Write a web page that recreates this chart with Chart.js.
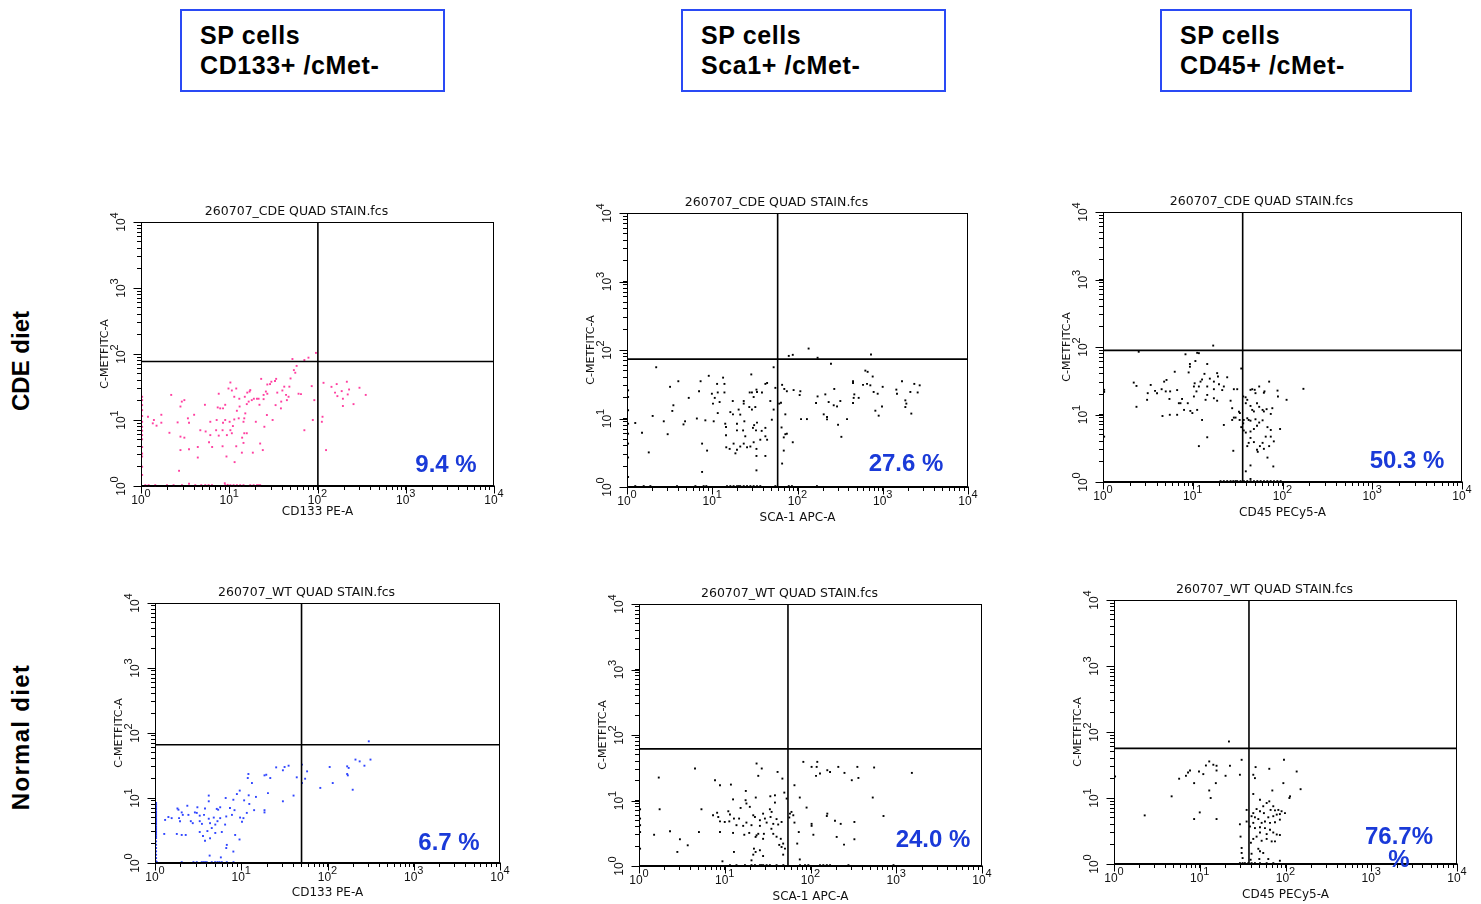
<!DOCTYPE html>
<html>
<head>
<meta charset="utf-8">
<script src="https://cdn.jsdelivr.net/npm/chart.js@4.4.1/dist/chart.umd.min.js"></script>
<style>
html,body{margin:0;padding:0;overflow:hidden;background:#fff;}
body{width:1481px;height:904px;position:relative;font-family:"Liberation Sans",Arial,Helvetica,sans-serif;}
canvas{position:absolute;}
.hdr{position:absolute;top:9px;height:70px;border:2px solid #2a4af5;padding:9px 0 0 18px;font-weight:bold;font-size:25px;letter-spacing:0.6px;line-height:30px;color:#000;white-space:pre;}
.rowlab{position:absolute;font-weight:bold;font-size:24px;line-height:24px;white-space:nowrap;color:#000;transform:translate(-50%,-50%) rotate(-90deg);}
.pct{position:absolute;font-weight:bold;font-size:24px;line-height:23px;color:#1a3ad8;white-space:pre;text-align:center;transform:translateX(-50%);z-index:5;}
</style>
</head>
<body>
<script>
// ---------------- DATA ----------------
const headerLines = [['SP cells', 'CD133+ /cMet-'], ['SP cells', 'Sca1+ /cMet-'], ['SP cells', 'CD45+ /cMet-']];
const rowLabels = ['CDE diet', 'Normal diet'];
const fileTitles = ['260707_CDE QUAD STAIN.fcs', '260707_CDE QUAD STAIN.fcs', '260707_CDE QUAD STAIN.fcs',
                    '260707_WT QUAD STAIN.fcs', '260707_WT QUAD STAIN.fcs', '260707_WT QUAD STAIN.fcs'];
const xAxisLabels = ['CD133 PE-A', 'SCA-1 APC-A', 'CD45 PECy5-A', 'CD133 PE-A', 'SCA-1 APC-A', 'CD45 PECy5-A'];
const yAxisLabel = 'C-METFITC-A';
const lowerRightPercents = ['9.4 %', '27.6 %', '50.3 %', '6.7 %', '24.0 %', '76.7%\n%'];
const gateX = [101, 58.5, 36, 50, 54.6, 37.5];
const gateY = [77, 73.6, 89, 66, 61.5, 56.4];
const decadeExponents = [0, 1, 2, 3, 4];
const minorSteps = [1, 2, 3, 4, 5, 6, 7, 8, 9];
const axisMin = 1, axisMax = 10000;

const cdeCd133Points = [[52,84],[54,57],[56,52],[58,66],[71,81],[79,88],[96,104],[23,42],[29,35],[30,38],[34,42],[35,26],[40,28],[42,32],[44,24],[48,32],[26,27],[27,25],[24.5,24],[22,17],[21.5,21],[19,21],[20.6,21],[17,27],[16,26],[15,22.5],[13,21],[12,30],[11.4,22.5],[10.7,28],[9.8,30],[10.3,37],[7.6,25],[9,17],[8.5,15],[7.9,15],[7.4,15.5],[5.3,17],[4,12],[3.5,9.1],[3.4,10.6],[2.9,19],[3.1,20],[2.8,16],[2.2,24],[2.6,9.2],[1.7,9.1],[1.7,12],[1.4,10],[1.36,8.9],[1.2,11.2],[1.5,8.2],[2.1,6.4],[2.8,5.6],[3.1,5.4],[3.5,3.6],[2.8,3.5],[4.4,3.9],[5.4,6.7],[6.1,9.4],[6.1,5.9],[4.7,7],[5.9,4.6],[7.1,7],[7.6,5.8],[8.4,4],[9.3,2.8],[9.4,5.9],[10.7,6.3],[10.1,9.4],[11.4,10.2],[12.2,13.8],[13.1,16],[14.5,9.4],[15.2,12.6],[15.8,17.4],[16.6,19],[18,20],[17.3,28.4],[14.8,10.6],[14,5.4],[14.5,4.5],[12,4],[11.5,2.3],[13.9,3.2],[18.5,3.2],[14.8,6.3],[20,9.4],[22.4,4.4],[24,3.5],[25,7.9],[26.7,11.9],[31,10],[33.5,16.8],[38.8,19],[38.5,15],[47,22.5],[49.5,42.6],[65,24.7],[61,25],[71,7],[86,32.6],[88.5,10],[92,20],[114,11.2],[112,9.4],[125,3.5],[144,31.8],[117,36.6],[165,35],[158,26],[168,23],[188,27.4],[215,38],[228,29],[220,24.4],[194,21],[194,16.3],[256,17.4],[299,30.8],[352,24],[45,20],[33,39],[27,34.5],[24.5,20.7],[9,10],[8.5,9.1],[11,8.1],[12.8,10.6],[15.8,6.3],[10.3,7],[7.2,10],[8.4,7],[6.4,3.9],[4.4,2.7],[2.7,1.7],[3.5,1.08],[8.9,1.1],[9.6,1.04],
[1.03,22.5],[1.03,20],[1.03,16.8],[1.03,14.1],[1.03,11.5],[1.03,9.4],[1.03,7.9],[1.03,6.9],[1.03,5.9],[1.03,5.1],[1.03,3.9],[1.03,3.1],[1.03,2.8],[1.03,1.96],[1.03,1.47],
[1.12,1.03],[1.22,1.03],[1.45,1.03],[1.97,1.03],[2.34,1.03],[2.91,1.03],[4.12,1.03],[4.82,1.03],[5.35,1.03],[5.83,1.03],[6.37,1.03],[9.0,1.03],[10.3,1.03],[11.2,1.03],[12.2,1.03],[13.3,1.03],[14.5,1.03],[17.3,1.03],[18.9,1.03],[20.6,1.03],[21.5,1.03],[22.4,1.03]];

const cdeSca1Points = [[135,105],[79,82],[88,85],[172,77],[728,86],[247,63],[2.2,56],[52.5,56],[9.1,42],[13.4,39.5],[7.3,35],[4.0,35],[3.2,29],[11.4,32],[13.9,32],[28.7,44],[42,32],[7.0,25],[5.3,20],[3.5,15.6],[3.4,12.9],[2.0,10.9],[2.7,9.1],[3.0,5.9],[1.8,3.2],[1.5,6.2],[1.25,8.6],
[1.03,25.8],[1.03,20.6],[1.03,13.2],[1.03,8.4],[1.03,6.0],[1.03,4.3],[1.03,2.7],[1.03,1.4],
[9.9,23],[10.7,20],[10.2,16.5],[11.6,24],[12.2,17.4],[13.9,24],[11.6,12],[10.4,9.1],[8.3,9.4],[6.6,10],[4.8,9.1],[4.6,8.2],[14.2,8.4],[14.5,7.5],[14.5,5.7],[17.4,18],[16.3,12.4],[17.5,11.5],[20.4,13.5],[21.3,11.4],[23.4,18],[23.4,16.5],[23.8,9.1],[19.5,6.7],[19.5,8.4],[23,6.7],[24.4,5.5],[27.5,24],[29.2,24],[30.6,20.6],[32,14.7],[27.2,14.7],[29.2,13.5],[33,26.4],[33.5,24.4],[38.3,24],[44,33],[48,18],[52.5,13.5],[55,28],[50,9.6],[33.5,8.7],[31,8],[30,7.3],[32.6,6.7],[38,6.6],[42,7.3],[42,5.5],[44,4.9],[36.6,4.9],[30.6,4.5],[33,3.6],[28,3.9],[25.6,3.8],[23.4,4.3],[21.3,3.9],[19.5,3.5],[18.7,3.1],[17.8,4.3],[16,3.6],[14.6,3.8],[7.6,4.3],[8.7,3.4],[7.6,1.66],[33,2.84],[42,2.84],[33,1.75],
[66,31],[70,27],[64,17],[61,16.5],[72,11.5],[65,7.4],[69,5.3],[72,5.9],[75,6],[88,4.5],[69,3.4],[66,2.2],[75,25],[90,26],[108,25],[106,22],[110,9.8],[129,9.8],[165,16.8],[172,21],[212,22.5],[203,11.5],[222,10.5],[222,9.7],[270,27],[232,17.4],[266,15.6],[291,15],[318,18],[381,9.8],[299,8.1],[327,5.4],[448,33],[448,35],[464,22.5],[456,20],[448,16.8],[522,20],[587,31],[625,50],[665,48],[762,41],[715,30.5],[782,24.4],[872,23],[998,29],[980,15],[819,13],[896,11],[1443,26.4],[1469,23],[1682,35],[1841,18.4],[1841,14.7],[1891,16.5],[2108,24.4],[2163,11.8],[2345,32],[2568,24],[2711,30.5],[654,32],
[1.25,1.03],[1.57,1.03],[1.88,1.03],[3.86,1.03],[6.34,1.03],[7.93,1.03],[8.52,1.03],[14.9,1.03],[16.3,1.03],[17.8,1.03],[19.5,1.03],[20.4,1.03],[21.3,1.03],[23.4,1.03],[25.6,1.03],[28,1.03],[30.6,1.03],[33.5,1.03],[36.6,1.03],[55,1.03],[79,1.03],[86,1.03],[169,1.03]];

const cdeCd45Points = [[2.5,85],[8.3,78],[11.2,82],[11.7,81],[16.9,105],[9.3,56],[9.3,51],[10.7,62],[14.5,56],[6.3,43],[9.0,42],[13.5,40],[15.5,34],[18.7,41],[19.1,36.5],[24.2,35.6],[17.2,30.7],[19.6,28],[22.2,26],[21.3,23],[28.7,23.7],[31.3,23.7],[12.7,33],[12.2,30.7],[10.5,29],[10.3,26],[11.7,26],[14.5,26],[17.2,23.7],[14.5,19.5],[13.9,16.5],[17.2,17.4],[18.7,16],[26.4,16],[27.5,12.4],[32.7,11],[33.3,8.3],[28.7,9],[22.2,7],[14.5,4.6],[11.7,3.4],[28.3,2.9],[12.7,8.3],[11.2,11.7],[9.9,10.5],[9.4,11.3],[8.0,11.7],[8.8,14.7],[7.6,17],[6.7,23],[7.0,14.7],[5.5,17],[5.0,22],[4.8,30.7],[5.1,32.5],[5.6,22],[4.5,23.7],[4.0,20.7],[3.8,22.4],[3.4,27.4],[3.15,20.7],[3.1,16.5],[2.36,13],[2.2,29.7],[2.36,26.5],[4.6,9.5],[5.55,9.9],[6.7,9.9],[7.3,14.7],[11,22],[10.3,18.5],[1.03,23.2],[1.03,21.6],[1.03,4.7],
[34.7,48],[36.5,18.5],[38.8,18],[40.5,16.5],[44,23.2],[46,23.7],[49,23.2],[50,20.7],[55,26],[62,21],[63,22],[71,30.7],[88,22.6],[89,18.5],[111,16.5],[171,24],[39,14.7],[44,13.4],[46,11.7],[48,11.1],[52,14.7],[55,13],[60,11.7],[62,11.1],[66.5,12],[77,12.4],[74,10.2],[40.5,8.8],[42,8.3],[44,8.1],[50,8.5],[55,7.6],[60,8.2],[52,6.8],[48,6.1],[44,5.6],[37,5.8],[39,5.4],[68,6.5],[74,5.9],[94,6.1],[65,4.7],[74,4.7],[80,4],[71,3.4],[60,3.8],[56,3.4],[52,3.0],[48,3.9],[44,4.5],[42,3.8],[40.5,3.4],[62,3.1],[53,2.8],[68,2.3],[79,1.7],[44,1.76],[39,1.44],[44,1.11],[36.5,7.4],[37,8.3],[34.7,6.5],[33.5,10.5],[30,9],[27.5,8.3],
[20.4,1.03],[22.2,1.03],[24.2,1.03],[26.4,1.03],[28.3,1.03],[30,1.03],[31.3,1.03],[34.1,1.03],[37.2,1.03],[40.5,1.03],[44.1,1.03],[48.1,1.03],[52.4,1.03],[57.1,1.03],[62.2,1.03],[67.7,1.03],[73.8,1.03],[80.4,1.03],[87.6,1.03],[95.4,1.03]];

const wtCd133Points = [[301,74.5],[211,39],[236,36.6],[315,39],[268,31.4],[169,30.7],[176,29],[169,23.4],[172,22.3],[196,13.4],[106,30],[115,17],[82.5,14.3],[58,25.7],[55,19.8],[50.6,17],[50.6,32.6],[44,20.8],[40.4,10.9],[30.4,8.9],[35.4,31.4],[31.8,30],[25.4,29.6],[30.4,26.7],[21.7,20.3],[19.5,22.8],[18.6,22.3],[20.4,11.9],[18.6,6.5],[18.6,6.0],[14.8,10.4],[14.1,6.5],[12.1,23.4],[11.9,20.3],[13.3,17],[12.2,11],[12.4,8.1],[10.8,9.2],[8.9,11.5],[9.6,13],[8.1,9.4],[8.35,6.5],[7.8,5.5],[7.4,7],[6.6,10],[6.7,5.2],[5.7,7.2],[5.4,6.6],[5.2,6.8],[4.2,10.9],[4.2,8.9],[3.8,6.9],[3.7,5.5],[3.1,7.2],[3.05,5.9],[3.3,5.35],[2.44,5.5],[2.37,7.6],[2.1,5.5],[2.04,6.0],[1.9,4.9],[1.95,4.4],[1.87,6.6],[1.82,6.9],[1.56,4.9],[1.43,5.1],[1.31,4.6],[1.28,2.8],[1.79,2.8],[2.04,2.7],[2.27,2.7],[2.6,4.4],[2.74,4.1],[2.9,6.0],[3.3,4.4],[3.5,4.0],[4.2,4.8],[4.35,4.1],[4.8,5.0],[5.0,3.9],[5.3,4.4],[5.7,4.9],[6.5,3.9],[5.95,3.0],[5.0,2.9],[4.55,3.45],[4.05,3.1],[4.35,2.4],[3.3,3.0],[3.6,2.6],[3.8,2.2],[9.7,5.0],[10.2,4.3],[10.6,4.9],[11.6,5.9],[8.5,2.7],[9.55,2.3],[6.7,1.7],[6.8,1.9],[8.1,1.5],[5.8,1.22],[4.3,1.3],
[1.03,8.4],[1.03,7.9],[1.03,7.45],[1.03,7.0],[1.03,6.62],[1.03,6.2],[1.03,5.88],[1.03,5.5],[1.03,5.22],[1.03,4.9],[1.03,4.64],[1.03,4.4],[1.03,4.12],[1.03,3.9],[1.03,3.66],[1.03,3.45],[1.03,3.26],[1.03,3.07],[1.03,2.9],[1.03,2.73],[1.03,2.57],[1.03,2.42],[1.03,2.15],[1.03,1.91],[1.03,1.7],[1.03,1.51],[1.03,1.34],[1.03,1.19],[1.03,1.06],
[1.05,1.03],[2.04,1.03],[2.79,1.03],[3.05,1.03],[3.48,1.03],[3.64,1.03],[3.81,1.03],[3.98,1.03],[4.55,1.03],[4.98,1.03],[5.3,1.03],[5.59,1.03],[5.95,1.03],[6.8,1.03],[8.13,1.03]];

const wtSca1Points = [[82.5,38.9],[120,38.9],[103,32.6],[118,32.6],[116,23.8],[129,25.8],[157,29],[169,27.3],[211,32.6],[249,26.4],[352,32.6],[362,22.1],[303,20.4],[552,31.9],[1521,26.4],[532,11.1],[710,5.8],[65,17.1],[75,11.1],[90,7.8],[103,4.4],[103,4.1],[155,5.8],[157,6.3],[193,4.9],[225,4.4],[325,4.7],[325,2.56],[202,2.78],[246,2.12],[108,3.0],[70,2.2],[73,3.3],[65,4.6],[63,5.95],[60,6.7],[57.6,6.3],[56.6,5.5],[75,1.26],
[23.5,36.7],[24.6,23.8],[27,30.8],[41.3,27.3],[47,21.6],[38.5,12],[34,11.6],[49.5,13.2],[52.7,10.7],[38.5,9.3],[23,11.1],[17.6,14],[17.5,10.1],[17.9,9],[19.6,8],[15.3,7.7],[12.5,10.4],[11.8,17.5],[8.8,17.1],[7.7,20.4],[4.5,30.8],[1.7,22.4],[5.35,7.35],[1.74,7.35],[7.3,5.95],[8.15,6.5],[8.4,5.6],[11,6.85],[11.5,6.1],[11.3,4.8],[10,4.7],[8.8,4.8],[12.8,5.3],[14.7,5.3],[13.7,4.2],[16.4,4.1],[17.9,4.6],[21.5,5.95],[22.5,5.6],[25.7,5.0],[25.7,4.1],[28,6.3],[29.4,5.3],[30.8,4.6],[33.6,7.35],[34.2,5.6],[35.2,6.7],[36.8,4.4],[40.2,5.2],[42,4.3],[46,4.7],[20.5,4.2],[19.3,3.2],[16.9,3.0],[23.5,2.94],[22.9,2.78],[24.6,3.1],[28.6,3.1],[28,2.6],[35,3.7],[36.8,3.1],[40.2,2.8],[43.2,2.1],[45,2.6],[46,1.95],[48,2.2],[50.4,1.84],[48,1.49],[21.9,1.84],[22.9,1.64],[21.5,1.49],[25.7,1.74],[28,1.42],[20.5,1.22],[12.5,3.2],[8.8,3.3],[5.0,3.3],[3.0,2.56],[3.7,2.07],[2.3,3.4],[1.5,3.0],[2.8,1.64],[12.8,1.64],[9.4,1.18],
[1.03,7.35],[1.03,5.3],[1.03,4.2],[1.03,3.3],[1.03,1.84],
[11.5,1.03],[13.7,1.03],[17.2,1.03],[20.5,1.03],[22.5,1.03],[25.7,1.03],[26.9,1.03],[28.1,1.03],[30.8,1.03],[33.6,1.03],[40.2,1.03],[48.2,1.03],[75.4,1.03],[86.3,1.03],[94.4,1.03],[129,1.03],[141,1.03],[155,1.03],[169,1.03],[277,1.03],[929,1.03]];

const wtCd45Points = [[21.9,71.8],[30.8,37.9],[22.5,30.8],[15.7,30.8],[14.4,31.9],[12.9,35.8],[11.8,31.1],[9.8,25.2],[7.7,26.1],[7.3,24.4],[6.9,21.7],[5.75,19.6],[11,23],[15.7,26.1],[20,21.7],[29.4,22.5],[8.6,16.8],[15.4,16.8],[12.9,13],[13.4,10],[4.7,10.6],[10,6.05],[8.6,4.8],[15.7,4.8],[2.28,5.45],[1.03,21.2],
[44.8,29.4],[64.7,27.7],[96,37.9],[135,25.2],[42.1,22.5],[44,20],[94.4,16.8],[150,13.6],[113,10.6],[111,10],[42.1,11.5],[50.4,9.4],[70.2,13],[64.7,8.9],[60.3,8.4],[72,7.5],[55,7.5],[67,6.6],[75.4,6.5],[82.5,6.6],[90,6.3],[98.6,5.9],[86,5.7],[79,5.6],[72,5.3],[63,5.1],[56,5.9],[50.4,6.3],[46,6.8],[42.1,5.9],[40.2,5.3],[44,5.1],[35.2,6.6],[35.2,4.4],[42.1,4.2],[48.2,4.8],[52.7,4.2],[57.6,4.4],[66,4.2],[75.4,4.3],[86,4.7],[38.5,3.7],[44,3.5],[50.4,3.6],[57.6,3.5],[66,3.3],[72,3.0],[79,2.8],[60.3,2.84],[50.4,3.0],[46,2.6],[42.1,2.4],[39.5,2.1],[52.7,2.25],[60.3,2.4],[69,2.2],[75.4,2.2],[86,2.75],[48.2,1.7],[50.4,1.56],[55,1.47],[63,1.19],[49.5,1.19],[86,1.12],[29.4,4.0],[29.9,2.6],[30.8,1.75],[30.8,1.47],[31.6,1.23],[40.2,1.43],[39.2,1.16],
[29.4,1.03],[31.6,1.03],[33.6,1.03],[36.8,1.03],[40.2,1.03],[44,1.03],[50.4,1.03],[60.3,1.03],[72.1,1.03]];

const panelPoints = [cdeCd133Points, cdeSca1Points, cdeCd45Points, wtCd133Points, wtSca1Points, wtCd45Points];
const pointColors = ['#ff3fa0', '#000000', '#000000', '#2f45ff', '#000000', '#000000'];

// ---------------- LAYOUT (page pixels) ----------------
const plotBoxes = [[141,222,494,486],[627,213,968,487],[1103,212,1462,482],[155,603,500,863],[639,604,982,866],[1114,600,1457,864]];
const xTitleOffsets = [26, 31, 31, 30, 31, 31];
const headerBoxes = [[180,265],[681,265],[1160,252]];
const rowLabelPos = [[21,361,0],[21,737,1.3]];
const pctPos = [[446,463],[906,462],[1407,459],[449,841],[933,838],[1399,835]];

const tickValues = [];
decadeExponents.slice(0, -1).forEach(e => minorSteps.forEach(m => tickValues.push(m * Math.pow(10, e))));
tickValues.push(axisMax);

// headers
headerLines.forEach((lines, i) => {
  const d = document.createElement('div');
  d.className = 'hdr';
  d.style.left = headerBoxes[i][0] + 'px';
  d.style.width = (headerBoxes[i][1] - 4 - 18) + 'px';
  d.textContent = lines.join('\n');
  document.body.appendChild(d);
});
rowLabels.forEach((t, i) => {
  const d = document.createElement('div');
  d.className = 'rowlab';
  d.style.left = rowLabelPos[i][0] + 'px';
  d.style.top = rowLabelPos[i][1] + 'px';
  d.style.letterSpacing = rowLabelPos[i][2] + 'px';
  d.textContent = t;
  document.body.appendChild(d);
});
lowerRightPercents.forEach((t, i) => {
  const d = document.createElement('div');
  d.className = 'pct';
  d.style.left = pctPos[i][0] + 'px';
  d.style.top = (pctPos[i][1] - 11.2) + 'px';
  d.textContent = t;
  document.body.appendChild(d);
});

const TICK_FONT = '"Liberation Sans", Arial, sans-serif';
function drawPower(ctx, cx, cy, exp, rotated) {
  ctx.save();
  ctx.translate(cx, cy);
  if (rotated) ctx.rotate(-Math.PI / 2);
  ctx.fillStyle = '#111';
  ctx.textBaseline = 'middle';
  ctx.textAlign = 'left';
  ctx.font = '12px ' + TICK_FONT;
  const w1 = ctx.measureText('10').width;
  ctx.font = '11px ' + TICK_FONT;
  const s = String(exp);
  const w2 = ctx.measureText(s).width;
  const start = -(w1 + w2) / 2;
  ctx.font = '12px ' + TICK_FONT;
  ctx.fillText('10', start, 0);
  ctx.font = '11px ' + TICK_FONT;
  ctx.fillText(s, start + w1, -7);
  ctx.restore();
}

const axisDecor = {
  id: 'axisDecor',
  afterDraw(chart) {
    const {ctx, chartArea: a, scales: {x, y}} = chart;
    ctx.save();
    ctx.strokeStyle = '#000';
    ctx.lineWidth = 1;
    const l = Math.round(a.left) + 0.5, t = Math.round(a.top) + 0.5;
    const r = Math.round(a.right) - 0.5, b = Math.round(a.bottom) - 0.5;
    ctx.strokeRect(l, t, r - l, b - t);
    ctx.beginPath();
    decadeExponents.forEach(e => {
      const v = Math.pow(10, e);
      const px = Math.round(x.getPixelForValue(v)) + 0.5;
      ctx.moveTo(px, b); ctx.lineTo(px, b + 8);
      const py = Math.round(y.getPixelForValue(v)) + 0.5;
      ctx.moveTo(l, py); ctx.lineTo(l - 8, py);
    });
    ctx.stroke();
    decadeExponents.forEach(e => {
      const v = Math.pow(10, e);
      drawPower(ctx, x.getPixelForValue(v), a.bottom + 15, e, false);
      drawPower(ctx, a.left - 19, y.getPixelForValue(v), e, true);
    });
    ctx.restore();
  }
};

function logAxis(titleText, titleFontSize, titlePadding, position) {
  return {
    type: 'logarithmic', position, min: axisMin, max: axisMax,
    afterBuildTicks: scale => { scale.ticks = tickValues.map(v => ({value: v})); },
    ticks: {display: false},
    grid: {drawOnChartArea: false, drawTicks: true, tickLength: 4, tickColor: '#000', tickWidth: 1},
    border: {display: true, color: '#000', width: 1},
    title: {display: true, text: titleText, color: '#111',
            font: {family: 'DejaVu Sans', size: titleFontSize, lineHeight: '13px'}, padding: titlePadding}
  };
}

plotBoxes.forEach((box, i) => {
  const [L, T, R, B] = box;
  const padL = 2, yAxisW = 42, titleH = 17;
  const left = L - yAxisW - padL, top = T - titleH;
  const xPadTop = xTitleOffsets[i] - 10.5;
  const xAxisH = 4 + 13 + xPadTop + 2;
  const rawW = R - left, rawH = (B - top) + xAxisH;
  const w = Math.ceil(rawW + 14), h = Math.ceil(rawH + 1);
  const padR = w - rawW, padB = h - rawH;
  const cv = document.createElement('canvas');
  cv.width = w; cv.height = h;
  cv.style.left = left + 'px'; cv.style.top = top + 'px';
  cv.style.width = w + 'px'; cv.style.height = h + 'px';
  document.body.appendChild(cv);

  new Chart(cv, {
    type: 'scatter',
    data: {
      datasets: [
        {data: [{x: gateX[i], y: axisMin}, {x: gateX[i], y: axisMax}], showLine: true, borderColor: '#000', borderWidth: 1.6, pointRadius: 0, clip: false},
        {data: [{x: axisMin, y: gateY[i]}, {x: axisMax, y: gateY[i]}], showLine: true, borderColor: '#000', borderWidth: 1.6, pointRadius: 0, clip: false},
        {data: panelPoints[i].map(p => ({x: p[0], y: p[1]})), showLine: false, pointStyle: 'rect', pointRadius: 1.35,
         pointBackgroundColor: pointColors[i], pointBorderWidth: 0, clip: false}
      ]
    },
    options: {
      responsive: false, animation: false, devicePixelRatio: 1,
      events: [],
      layout: {padding: {left: padL, right: padR, top: 0, bottom: padB}},
      plugins: {
        legend: {display: false}, tooltip: {enabled: false},
        title: {display: true, text: fileTitles[i], color: '#111',
                font: {family: 'DejaVu Sans', size: 12.5, weight: 'normal', lineHeight: '13px'}, padding: {top: 0, bottom: 4}}
      },
      scales: {
        x: logAxis(xAxisLabels[i], 12, {top: xPadTop, bottom: 2}, 'bottom'),
        y: logAxis(yAxisLabel, 11, {top: 0, bottom: 25}, 'left')
      }
    },
    plugins: [axisDecor]
  });
});
</script>
</body>
</html>
